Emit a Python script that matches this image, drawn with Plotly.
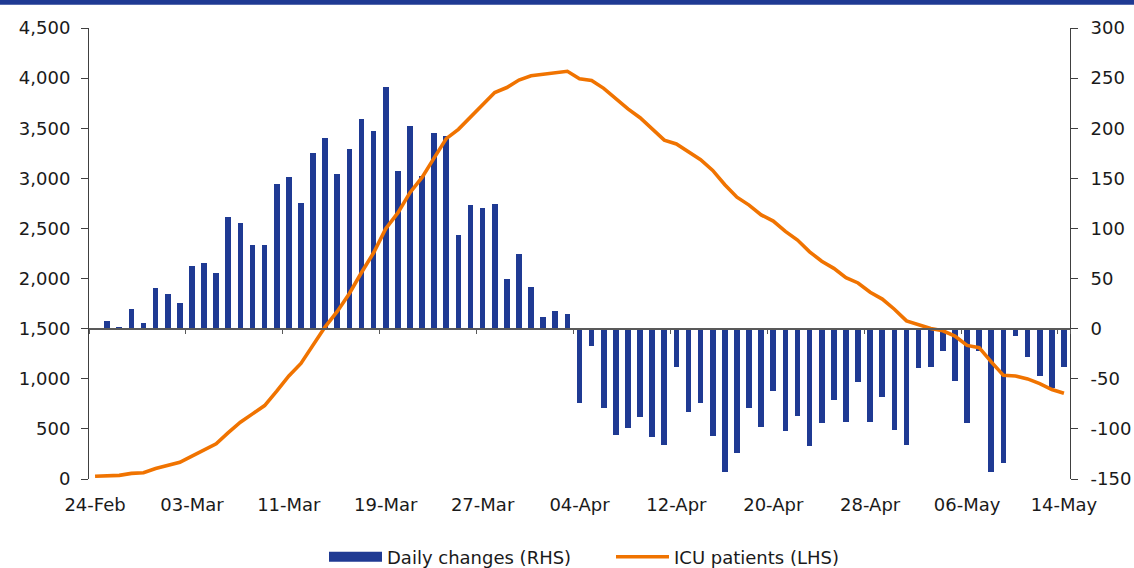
import pandas as pd
import plotly.graph_objects as go

# Daily dates, 24 Feb - 14 May 2020
dates = pd.date_range("2020-02-24", "2020-05-14", freq="D")
day_labels = [d.strftime("%d-%b") for d in dates]
tick_labels = day_labels[::8]

# ICU patients (left-hand scale)
icu_patients = [
    27, 35, 36, 56, 62, 105, 140, 166, 229, 295,
    351, 462, 567, 650, 733, 877, 1028, 1153, 1328, 1518,
    1672, 1851, 2060, 2257, 2498, 2655, 2857, 3009, 3204, 3396,
    3489, 3612, 3732, 3856, 3906, 3981, 4023, 4035, 4053, 4068,
    3994, 3977, 3898, 3792, 3693, 3605, 3497, 3381, 3343, 3260,
    3186, 3079, 2936, 2812, 2733, 2635, 2573, 2471, 2384, 2267,
    2173, 2102, 2009, 1956, 1863, 1795, 1694, 1578, 1539, 1501,
    1479, 1427, 1333, 1311, 1168, 1034, 1027, 999, 952, 893,
    855,
]

# Daily change in ICU patients (right-hand scale)
daily_changes = [
    None,
    8, 1, 20, 6, 41, 35, 26, 63, 66, 56,
    111, 105, 83, 83, 144, 151, 125, 175, 190, 154,
    179, 209, 197, 241, 157, 202, 152, 195, 192, 93,
    123, 120, 124, 50, 75, 42, 12, 18, 15, -74,
    -17, -79, -106, -99, -88, -108, -116, -38, -83, -74,
    -107, -143, -124, -79, -98, -62, -102, -87, -117, -94,
    -71, -93, -53, -93, -68, -101, -116, -39, -38, -22,
    -52, -94, -22, -143, -134, -7, -28, -47, -59, -38,
]

left_ticks = list(range(0, 4501, 500))
left_ticktext = [f"{v:,}" for v in left_ticks]
right_ticks = list(range(-150, 301, 50))
right_ticktext = [str(v) for v in right_ticks]

BLUE = "#1F3A93"
ORANGE = "#F07300"
TEXT = "#1a1a1a"
FONT = "DejaVu Sans, Liberation Sans, sans-serif"
FS = 18

fig = go.Figure()

# legend entry for the bars (wide rectangle swatch)
fig.add_trace(go.Scatter(
    x=[None], y=[None], mode="lines", name="Daily changes (RHS)",
    line=dict(color=BLUE, width=10), xaxis="x", yaxis="y",
    hoverinfo="skip",
))
fig.add_trace(go.Bar(
    x=day_labels, y=daily_changes, name="Daily changes (RHS)",
    marker=dict(color=BLUE, line=dict(width=0)), width=0.46,
    showlegend=False, xaxis="x", yaxis="y",
))
fig.add_trace(go.Scatter(
    x=day_labels, y=icu_patients, mode="lines", name="ICU patients (LHS)",
    line=dict(color=ORANGE, width=3.6), xaxis="x2", yaxis="y2",
))

n = len(day_labels)
xrange = [-0.5, n - 0.5]

fig.update_layout(
    width=1134, height=568,
    margin=dict(l=89, r=64, t=28, b=89, autoexpand=False),
    paper_bgcolor="white", plot_bgcolor="white",
    font=dict(family=FONT, size=FS, color=TEXT),
    bargap=0,
    xaxis=dict(
        type="category", categoryorder="array", categoryarray=day_labels,
        range=xrange, anchor="free", position=1 / 3,
        tickmode="array", tickvals=tick_labels, tickson="boundaries",
        ticks="outside", ticklen=5, tickcolor="#595959", tickwidth=1,
        showticklabels=False, showline=True, linecolor="#595959", linewidth=1.5,
        showgrid=False, zeroline=False,
    ),
    xaxis2=dict(
        type="category", categoryorder="array", categoryarray=day_labels,
        range=xrange, overlaying="x", anchor="y2", side="bottom",
        tickmode="array", tickvals=tick_labels, ticks="",
        showline=False, showgrid=False, zeroline=False,
        tickfont=dict(family=FONT, size=FS, color=TEXT),
        ticklabelstandoff=13,
    ),
    yaxis=dict(
        range=[-150, 300], side="right", anchor="x",
        tickmode="array", tickvals=right_ticks, ticktext=right_ticktext,
        ticks="outside", ticklen=7, tickcolor="#404040",
        showline=True, linecolor="#404040", linewidth=1,
        showgrid=False, zeroline=False,
        tickfont=dict(family=FONT, size=FS, color=TEXT),
        ticklabelstandoff=9,
    ),
    yaxis2=dict(
        range=[0, 4500], side="left", overlaying="y", anchor="x2",
        tickmode="array", tickvals=left_ticks, ticktext=left_ticktext,
        ticks="outside", ticklen=7, tickcolor="#404040",
        showline=True, linecolor="#404040", linewidth=1,
        showgrid=False, zeroline=False,
        tickfont=dict(family=FONT, size=FS, color=TEXT),
        ticklabelstandoff=7,
    ),
    legend=dict(
        orientation="h", xref="paper", yref="paper",
        x=(324 - 89) / 981, xanchor="left",
        y=-(557 - 479) / 451, yanchor="middle",
        font=dict(family=FONT, size=FS, color=TEXT),
        itemwidth=53, entrywidth=219, entrywidthmode="pixels",
        bgcolor="rgba(0,0,0,0)", traceorder="normal",
    ),
    showlegend=True,
)

# dark band across the top edge
fig.add_shape(
    type="rect", xref="paper", yref="paper", layer="above",
    x0=-89 / 981, x1=(1134 - 89) / 981,
    y0=1 + (28 - 4.7) / 451, y1=1 + 28 / 451,
    fillcolor=BLUE, line=dict(width=0),
)

fig.write_html("out.html")
